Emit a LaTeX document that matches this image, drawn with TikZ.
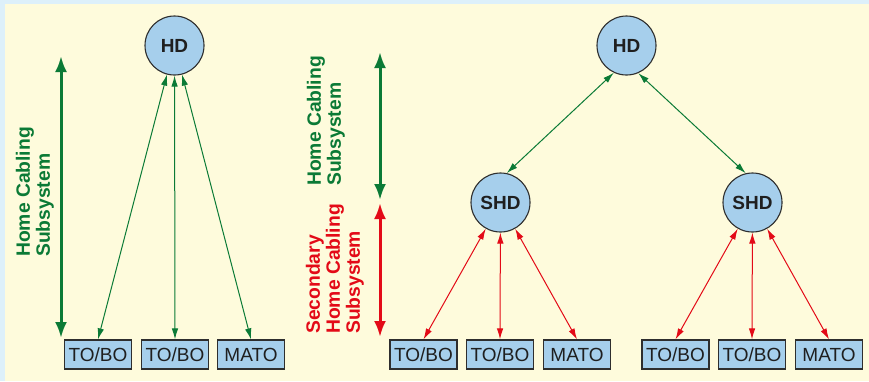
\documentclass[tikz,border=0pt]{standalone}
\usepackage{fontspec}
\setmainfont{Liberation Sans}
\usetikzlibrary{arrows.meta}
\definecolor{bgblue}{HTML}{DDF0FA}
\definecolor{cream}{HTML}{FEFBDC}
\definecolor{nodefill}{HTML}{A6CFEC}
\definecolor{gr}{HTML}{0B7A36}
\definecolor{rd}{HTML}{E30A17}
\definecolor{edge}{HTML}{2E2E2E}
\tikzset{
  hub/.style={circle, draw=edge, line width=1.1pt, fill=nodefill, minimum size=59pt, inner sep=0pt, font=\fontsize{19}{20}\selectfont\bfseries, text=black!88},
  outlet/.style={rectangle, draw=edge, line width=1.2pt, fill=nodefill, minimum width=67pt, minimum height=29pt, inner sep=0pt, font=\fontsize{19}{20}\selectfont, text=black!88},
  link/.style={line width=1pt, {Latex[length=11pt,width=6.5pt]}-{Latex[length=11pt,width=6.5pt]}},
  span/.style={line width=3pt, {Latex[length=16pt,width=12pt]}-{Latex[length=16pt,width=12pt]}},
  lbl/.style={rotate=90, align=left, font=\fontsize{19.3}{20}\selectfont\bfseries, inner sep=0pt}
}
\begin{document}
\begin{tikzpicture}[x=1pt,y=-1pt]
\fill[bgblue] (0,0) rectangle (869,381);
\fill[cream] (5,4) rectangle (869,381);
\useasboundingbox (0,0) rectangle (869,381);
% left diagram
\node[hub] (hdL) at (174.5,45.5) {HD};
\node[outlet] (l1) at (98,354.5) {TO/BO};
\node[outlet] (l2) at (175,354.5) {TO/BO};
\node[outlet] (l3) at (251,354.5) {MATO};
\draw[link, gr] (hdL) -- (l1.north);
\draw[link, gr] (hdL) -- (l2.north);
\draw[link, gr] (hdL) -- (l3.north);
\coordinate (sa1) at (61,56);
\coordinate (sa2) at (61,338);
\draw[span, gr] (sa1) -- (sa2);
\node[lbl, text=gr, anchor=west] (t1) at (35,257) {Home Cabling\\Subsystem};
% right diagram
\node[hub] (hdR) at (626.5,45.5) {HD};
\node[hub] (shd1) at (500.5,202.5) {SHD};
\node[hub] (shd2) at (752.5,202.5) {SHD};
\node[outlet] (a1) at (423.5,354.5) {TO/BO};
\node[outlet] (a2) at (500,354.5) {TO/BO};
\node[outlet] (a3) at (577,354.5) {MATO};
\node[outlet] (b1) at (675.5,354.5) {TO/BO};
\node[outlet] (b2) at (752,354.5) {TO/BO};
\node[outlet] (b3) at (829,354.5) {MATO};
\draw[link, gr] (hdR.245) -- (shd1.78);
\draw[link, gr] (hdR.293) -- (shd2.103);
\draw[link, rd] (shd1) -- (a1.north);
\draw[link, rd] (shd1) -- (a2.north);
\draw[link, rd] (shd1) -- (a3.north);
\draw[link, rd] (shd2) -- (b1.north);
\draw[link, rd] (shd2) -- (b2.north);
\draw[link, rd] (shd2) -- (b3.north);
\coordinate (g1) at (380,52);
\coordinate (g2) at (380,200);
\coordinate (r1) at (380,203);
\coordinate (r2) at (380,337);
\draw[span, gr] (g1) -- (g2);
\draw[span, rd] (r1) -- (r2);
\node[lbl, text=gr, anchor=west] (t2) at (326,186) {Home Cabling\\Subsystem};
\node[lbl, text=rd, anchor=west] (t3) at (335,334) {Secondary\\Home Cabling\\Subsystem};
\end{tikzpicture}
\end{document}
